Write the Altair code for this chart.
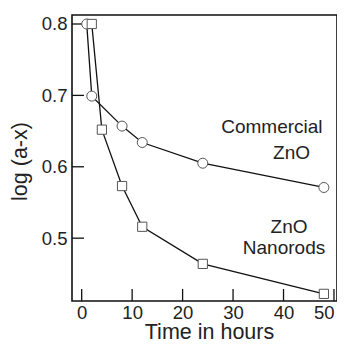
import altair as alt
import pandas as pd

# Data
com_t = [1, 2, 8, 12, 24, 48]
com_y = [0.800, 0.699, 0.657, 0.634, 0.605, 0.571]
nano_t = [2, 4, 8, 12, 24, 48]
nano_y = [0.800, 0.652, 0.573, 0.516, 0.464, 0.422]

x_ticks = [0, 10, 20, 30, 40, 50]
y_ticks = [0.5, 0.6, 0.7, 0.8]

ann_text = ["Commercial", "ZnO", "ZnO", "Nanorods"]
ann_t = [37.7, 41.6, 41.1, 40.1]
ann_y = [0.656, 0.619, 0.515, 0.486]

FONT = "Liberation Sans"
W, H = 265, 286

com = pd.DataFrame({"t": com_t, "y": com_y, "s": "Commercial ZnO"})
nano = pd.DataFrame({"t": nano_t, "y": nano_y, "s": "ZnO Nanorods"})
ann = pd.DataFrame({"text": ann_text, "t": ann_t, "y": ann_y})
xt = pd.DataFrame({"t": x_ticks})
yt = pd.DataFrame({"y": y_ticks})

xscale = alt.Scale(domain=[-1.92, 50.6], nice=False, zero=False)
yscale = alt.Scale(domain=[0.412, 0.8126], nice=False, zero=False)

xaxis = alt.Axis(values=x_ticks, ticks=False, tickSize=0, domain=False, grid=False,
                 labelFont=FONT, labelFontSize=18.5, labelColor="#222", labelPadding=2,
                 labelFlush=5,
                 title="Time in hours", titleFont=FONT, titleFontSize=21.5,
                 titleFontWeight="normal", titleColor="#222",
                 titleBaseline="alphabetic", titleY=37.5, titleX=137)
yaxis = alt.Axis(values=y_ticks, ticks=False, tickSize=0, domain=False, grid=False,
                 format=".1f",
                 labelFont=FONT, labelFontSize=18.5, labelColor="#222", labelPadding=5,
                 title="log (a-x)", titleFont=FONT, titleFontSize=21.5,
                 titleFontWeight="normal", titleColor="#222",
                 titleBaseline="alphabetic", titleX=-46, titleY=146, titleAngle=-90)

def line(df):
    return alt.Chart(df).mark_line(color="#111", strokeWidth=1.3).encode(
        x=alt.X("t:Q", scale=xscale, axis=xaxis),
        y=alt.Y("y:Q", scale=yscale, axis=yaxis),
    )

line_c = line(com)
line_n = line(nano)

pts_c = alt.Chart(com).mark_point(shape="circle", size=100, filled=True, fill="white",
                                  stroke="#555", strokeWidth=1, opacity=1).encode(
    x=alt.X("t:Q", scale=xscale), y=alt.Y("y:Q", scale=yscale))
pts_n = alt.Chart(nano).mark_point(shape="square", size=85, filled=True, fill="white",
                                   stroke="#555", strokeWidth=1, opacity=1).encode(
    x=alt.X("t:Q", scale=xscale), y=alt.Y("y:Q", scale=yscale))

text = alt.Chart(ann).mark_text(font=FONT, fontSize=19, color="#222",
                                align="center", baseline="middle").encode(
    x=alt.X("t:Q", scale=xscale), y=alt.Y("y:Q", scale=yscale), text="text:N")

xtick = alt.Chart(xt).mark_rule(color="#111", strokeWidth=1.3).encode(
    x=alt.X("t:Q", scale=xscale), y=alt.value(H), y2=alt.value(H - 12))
ytick = alt.Chart(yt).mark_rule(color="#111", strokeWidth=1.3).encode(
    y=alt.Y("y:Q", scale=yscale), x=alt.value(0), x2=alt.value(12))

chart = alt.layer(xtick, ytick, line_c, line_n, pts_c, pts_n, text).properties(
    width=W, height=H,
    autosize=alt.AutoSizeParams(type="none"),
    padding={"left": 64, "top": 7, "right": 0, "bottom": 39},
    background="white",
).configure_view(stroke="#111", strokeWidth=1.6)

chart.save("out.html", embed_options={"renderer": "svg", "actions": False})
